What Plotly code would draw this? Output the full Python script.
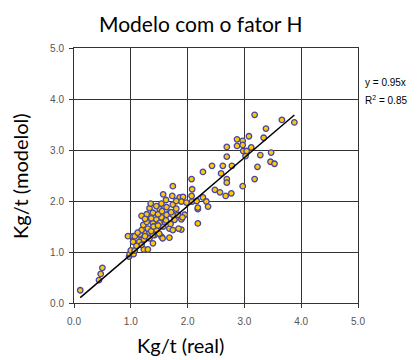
import plotly.graph_objects as go

x_real = [0.11, 0.44, 0.47, 0.50,
          0.97, 0.98, 1.00, 1.05, 1.07, 1.23, 1.30,
          0.95, 1.04, 1.10, 1.19, 1.25, 1.33, 1.42, 1.04, 1.15, 1.23, 1.33, 1.39, 1.19, 1.10,
          1.07, 1.16, 1.25, 1.39, 1.54, 1.68, 1.56,
          1.22, 1.30, 1.19, 1.36, 1.45, 1.57, 1.68, 1.74, 1.89, 1.84,
          1.36, 1.45, 1.54, 1.28, 1.39, 1.51, 1.60, 1.77, 1.89,
          1.33, 1.51, 1.39, 1.28, 1.48, 1.19, 1.68, 1.74, 1.63,
          1.57, 1.73, 1.86, 1.92, 1.54, 1.74, 1.89, 1.74,
          1.71, 1.83, 1.95, 1.91, 1.98, 2.08, 2.16, 2.27, 2.33, 2.18, 2.36, 2.18, 2.18,
          2.07, 2.08, 2.07,
          2.43, 2.62, 2.78, 2.27, 2.59, 2.69, 2.69, 2.48, 2.57, 2.67, 2.77,
          2.69, 2.87, 2.87, 2.69, 2.97, 2.97, 3.12, 2.98, 3.04, 3.02, 3.47, 3.28, 3.46, 3.53,
          3.23, 3.18, 2.97, 3.18, 3.66, 3.88, 3.38, 3.08, 3.34,
          1.40, 1.48, 1.62, 1.70, 1.55, 1.45, 1.63, 1.80, 1.25, 1.35, 1.80, 1.62, 1.12, 1.50]
y_model = [0.25, 0.45, 0.57, 0.69,
           0.91, 0.96, 1.03, 0.96, 1.03, 1.05, 1.05,
           1.31, 1.31, 1.27, 1.33, 1.37, 1.38, 1.33, 1.20, 1.20, 1.25, 1.27, 1.17, 1.14, 1.12,
           1.31, 1.35, 1.31, 1.33, 1.30, 1.28, 1.27,
           1.53, 1.46, 1.43, 1.41, 1.44, 1.50, 1.46, 1.43, 1.44, 1.46,
           1.66, 1.64, 1.68, 1.59, 1.56, 1.57, 1.59, 1.63, 1.64,
           1.86, 1.84, 1.77, 1.74, 1.74, 1.71, 1.76, 1.73, 1.73,
           2.13, 2.10, 2.07, 2.08, 1.95, 1.93, 1.99, 2.29,
           1.78, 1.73, 1.73, 1.68, 1.97, 1.99, 2.00, 2.07, 1.99, 1.84, 1.89, 1.87, 1.56,
           2.43, 2.23, 2.10,
           2.69, 2.69, 2.69, 2.57, 2.54, 2.43, 2.36, 2.22, 2.17, 2.10, 2.15,
           3.06, 3.21, 3.08, 2.87, 3.18, 3.10, 3.05, 2.98, 2.98, 2.88, 2.95, 2.90, 2.77, 2.73,
           2.67, 2.43, 2.29, 3.69, 3.59, 3.54, 3.42, 3.27, 3.24,
           1.50, 1.52, 1.62, 1.55, 1.80, 1.90, 1.88, 1.85, 1.65, 1.95, 2.00, 2.02, 1.38, 1.36]

slope = 0.95
fit_x = [min(x_real), max(x_real)]
fit_y = [slope * v for v in fit_x]

tick_vals = [0, 1, 2, 3, 4, 5]
tick_text = ["0.0", "1.0", "2.0", "3.0", "4.0", "5.0"]

fig = go.Figure()
fig.add_trace(go.Scatter(
    x=x_real, y=y_model, mode="markers",
    marker=dict(size=5.5, color="#FFC800", line=dict(color="#4545A5", width=1.3)),
    showlegend=False, hoverinfo="skip"))
fig.add_trace(go.Scatter(
    x=fit_x, y=fit_y, mode="lines",
    line=dict(color="black", width=1.5), showlegend=False, hoverinfo="skip"))

axis_common = dict(
    range=[0, 5], tickvals=tick_vals, ticktext=tick_text,
    showgrid=True, gridcolor="#333333", gridwidth=1,
    showline=True, linecolor="#333333", linewidth=1, mirror=True,
    ticks="outside", ticklen=4, tickcolor="#333333",
    tickfont=dict(family="Liberation Sans", size=10, color="#555555"),
    zeroline=False, fixedrange=True)

# plot area in window pixels: x 74..358, y 48..303 (page body has 8px margin)
PX0, PX1, PY0, PY1 = 74, 358, 48, 303


def px(xp):
    return (xp - PX0) / (PX1 - PX0)


def py(yp):
    return (PY1 - yp) / (PY1 - PY0)


fig.update_layout(
    width=419, height=360,
    margin=dict(l=PX0 - 8, r=419 - (PX1 - 8), t=PY0 - 8, b=360 - (PY1 - 8)),
    paper_bgcolor="white", plot_bgcolor="white",
    xaxis=dict(axis_common, ticklabelstandoff=5),
    yaxis=dict(axis_common, ticklabelstandoff=3),
    annotations=[
        dict(text="Modelo com o fator H", x=px(200), y=py(24), xref="paper", yref="paper",
             xanchor="center", yanchor="middle", showarrow=False,
             font=dict(family="Lato", size=21, color="black")),
        dict(text="Kg/t (real)", x=px(180), y=py(345), xref="paper", yref="paper",
             xanchor="center", yanchor="middle", showarrow=False,
             font=dict(family="Lato", size=20, color="black")),
        dict(text="y = 0.95x", x=px(363), y=py(82), xref="paper", yref="paper",
             xanchor="left", yanchor="middle", showarrow=False,
             font=dict(family="Liberation Sans", size=10, color="black")),
        dict(text="R<sup>2</sup> = 0.85", x=px(363), y=py(100), xref="paper", yref="paper",
             xanchor="left", yanchor="middle", showarrow=False,
             font=dict(family="Liberation Sans", size=10, color="black")),
        dict(text="Kg/t (modelol)", x=px(20), y=py(176), xref="paper", yref="paper",
             xanchor="center", yanchor="middle", textangle=-90, showarrow=False,
             font=dict(family="Lato", size=20, color="black")),
    ])

fig.write_html("out.html")
